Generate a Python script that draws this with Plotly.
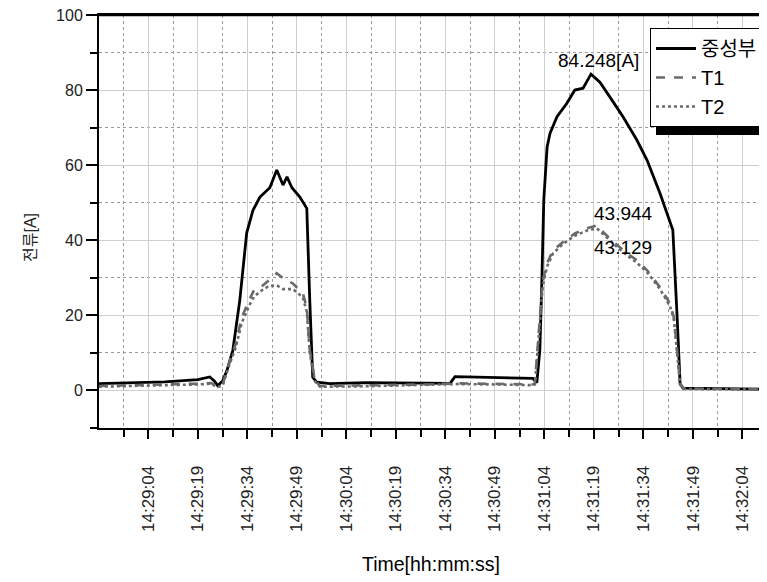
import pandas as pd
import plotly.graph_objects as go

BASE = "2024-01-01 14:28:49"

# seconds after 14:28:49 and current values [A]
neutral_t = [0, 10, 20, 30, 33.6, 35, 36, 37.5, 38.8, 40.6, 42.7, 44.8, 46.7, 48.8, 51.8, 53.9, 55.8, 57,
             58.5, 60.9, 63, 63.9, 64.8, 66, 70, 81, 95, 106.4, 107.9, 120, 131.5, 132.7, 133.6, 134.2,
             134.8, 135.8, 136.7, 138.8, 141.8, 144.2, 146.7, 149.1, 151.8, 154.8, 158.8, 163, 166.1,
             170, 173.9, 175.2, 176.1, 177, 190, 207]
neutral_a = [1.8, 2.0, 2.3, 2.9, 3.6, 2.5, 1.3, 2.5, 5.3, 10.7, 24, 42, 48, 51.5, 54, 58.7, 54.7, 56.9,
             54, 51.5, 48.5, 24, 3.5, 2.2, 1.8, 2.1, 1.9, 1.9, 3.7, 3.4, 3.2, 2.1, 10.7, 28.5,
             50.7, 64.8, 68.5, 72.9, 76.5, 80, 80.5, 84.248, 82.1, 78.2, 72.9, 66.7, 61.3,
             52.5, 42.7, 19.5, 1.8, 0.6, 0.5, 0.3]

t1_t = [0, 10, 20, 30, 34, 36, 37.5, 39.4, 41.5, 43.3, 45.5, 47, 49.1, 51.5, 53.9, 55.8, 58.8, 61.8,
        63, 63.9, 65.5, 67, 80, 100, 108, 120, 131.5, 132.1, 133.6, 134.5, 135.8, 137.6, 140.6,
        144.2, 147.9, 150.9, 153, 156, 160, 163, 166.1, 170, 173, 174.2, 175.2, 176.1, 177, 190, 207]
t1_a = [1.2, 1.4, 1.5, 1.8, 2.0, 1.0, 1.5, 7.2, 12.5, 19.5, 24, 26.7, 27.5, 29.3, 31.2, 29.9, 28.5, 25.9,
        22, 10.7, 2.7, 1.2, 1.3, 1.6, 1.9, 1.8, 1.6, 1.8, 19.5, 29.3, 33.9, 37.3, 39.5,
        41.8, 43.2, 43.944, 42, 39.5, 36.5, 34.7, 32, 27.5, 23.2, 19.5, 10.7, 1.8, 0.5, 0.4, 0.3]

t2_t = [0, 10, 20, 30, 34, 36, 37.5, 39.4, 41.5, 43.3, 45.5, 47, 49.1, 51.5, 53.9, 55.8, 58.8, 61.8,
        63, 63.9, 65.5, 67, 80, 100, 108, 120, 131.5, 132.1, 133.6, 134.5, 135.8, 137.6, 140.6,
        144.2, 147.9, 150.9, 153, 156, 160, 163, 166.1, 170, 173, 174.2, 175.2, 176.1, 177, 190, 207]
t2_a = [1.0, 1.2, 1.3, 1.6, 1.8, 0.9, 1.3, 6.5, 11.5, 18, 22.5, 25, 26.5, 27.8, 28, 27, 27, 24.8,
        21, 10, 2.4, 1.0, 1.1, 1.4, 1.7, 1.6, 1.4, 1.6, 18.5, 28, 33, 36.5, 39,
        41.2, 42.6, 43.129, 41.5, 39, 36, 34, 31.5, 27, 22.5, 19, 10, 1.6, 0.4, 0.3, 0.2]

peak_labels = ["84.248[A]", "43.944", "43.129"]
peak_label_t = [151.5, 158.8, 158.8]
peak_label_y = [88, 47.2, 38.1]


def to_time(secs):
    return pd.Timestamp(BASE) + pd.to_timedelta(secs, unit="s")


FONT = "Liberation Sans, Arial, Noto Sans CJK KR, sans-serif"

# plot area: 681 x 413 px (page body adds an 8px offset)
PW, PH = 681, 413

fig = go.Figure()
fig.add_trace(go.Scatter(x=to_time(neutral_t), y=neutral_a, mode="lines", name="중성부",
                         line=dict(color="black", width=2.8)))
fig.add_trace(go.Scatter(x=to_time(t1_t), y=t1_a, mode="lines", name="T1",
                         line=dict(color="#6a6a6a", width=2.6, dash="dash")))
fig.add_trace(go.Scatter(x=to_time(t2_t), y=t2_a, mode="lines", name="T2",
                         line=dict(color="#6a6a6a", width=2.6, dash="dot")))

for txt, tt, yy in zip(peak_labels, peak_label_t, peak_label_y):
    fig.add_annotation(x=to_time(tt), y=yy, text=txt, showarrow=False,
                       xanchor="center", yanchor="middle",
                       font=dict(size=19, color="black", family=FONT))

# axis titles
fig.add_annotation(xref="paper", yref="paper", x=(431 - 99) / PW, y=(428 - 564) / PH,
                   xanchor="center", yanchor="middle",
                   text="Time[hh:mm:ss]", showarrow=False,
                   font=dict(size=19.5, color="black", family=FONT))
fig.add_annotation(xref="paper", yref="paper", x=(30 - 99) / PW, y=(428 - 238) / PH,
                   xanchor="center", yanchor="middle",
                   text="전류[A]", textangle=-90, showarrow=False,
                   font=dict(size=16, color="#222", family=FONT))

# legend shadow
fig.add_shape(type="rect", xref="paper", yref="paper", x0=(656 - 99) / PW, x1=1.05,
              y0=(428 - 135) / PH, y1=0.94,
              fillcolor="black", line=dict(width=0), layer="above")
# top frame line
fig.add_shape(type="line", xref="paper", yref="paper", x0=0, x1=1, y0=1, y1=1,
              line=dict(color="black", width=2.5), layer="above")

fig.update_layout(
    width=800, height=574,
    margin=dict(l=91, r=28, t=7, b=154, autoexpand=False),
    paper_bgcolor="white", plot_bgcolor="white",
    font=dict(family=FONT, color="#222", size=16),
    showlegend=True,
    legend=dict(x=(650 - 99) / PW, y=(428 - 28) / PH, xanchor="left", yanchor="top",
                bgcolor="white", bordercolor="black", borderwidth=1,
                font=dict(size=20, color="black"), tracegroupgap=0, itemwidth=40),
)

fig.update_xaxes(
    type="date",
    range=[to_time(0.05), to_time(PW / 3.3)],
    tick0="2024-01-01 14:29:04", dtick=15000,
    tickformat="%H:%M:%S", tickangle=-90,
    ticks="outside", ticklen=9, tickwidth=2, tickcolor="black",
    ticklabelstandoff=20,
    tickfont=dict(size=17, color="#222"),
    showline=True, linecolor="black", linewidth=2, mirror=True,
    showgrid=True, gridcolor="#cfcfcf", gridwidth=1,
    minor=dict(tick0="2024-01-01 14:28:56.5", dtick=7500, ticks="outside", ticklen=7,
               tickwidth=1.5, tickcolor="black", showgrid=True, gridcolor="#9a9a9a",
               griddash="dot", gridwidth=1),
    zeroline=False, automargin=False,
)

fig.update_yaxes(
    range=[-10, 100],
    tick0=0, dtick=20,
    ticks="outside", ticklen=11, tickwidth=2, tickcolor="black",
    tickfont=dict(size=16, color="#222"),
    ticklabeloverflow="allow",
    showline=True, linecolor="black", linewidth=2,
    showgrid=True, gridcolor="#cfcfcf", gridwidth=1,
    minor=dict(dtick=10, ticks="outside", ticklen=7, tickwidth=1.5, tickcolor="black",
               showgrid=True, gridcolor="#9a9a9a", griddash="dot", gridwidth=1),
    zeroline=False, automargin=False,
)

fig.write_html("out.html")
